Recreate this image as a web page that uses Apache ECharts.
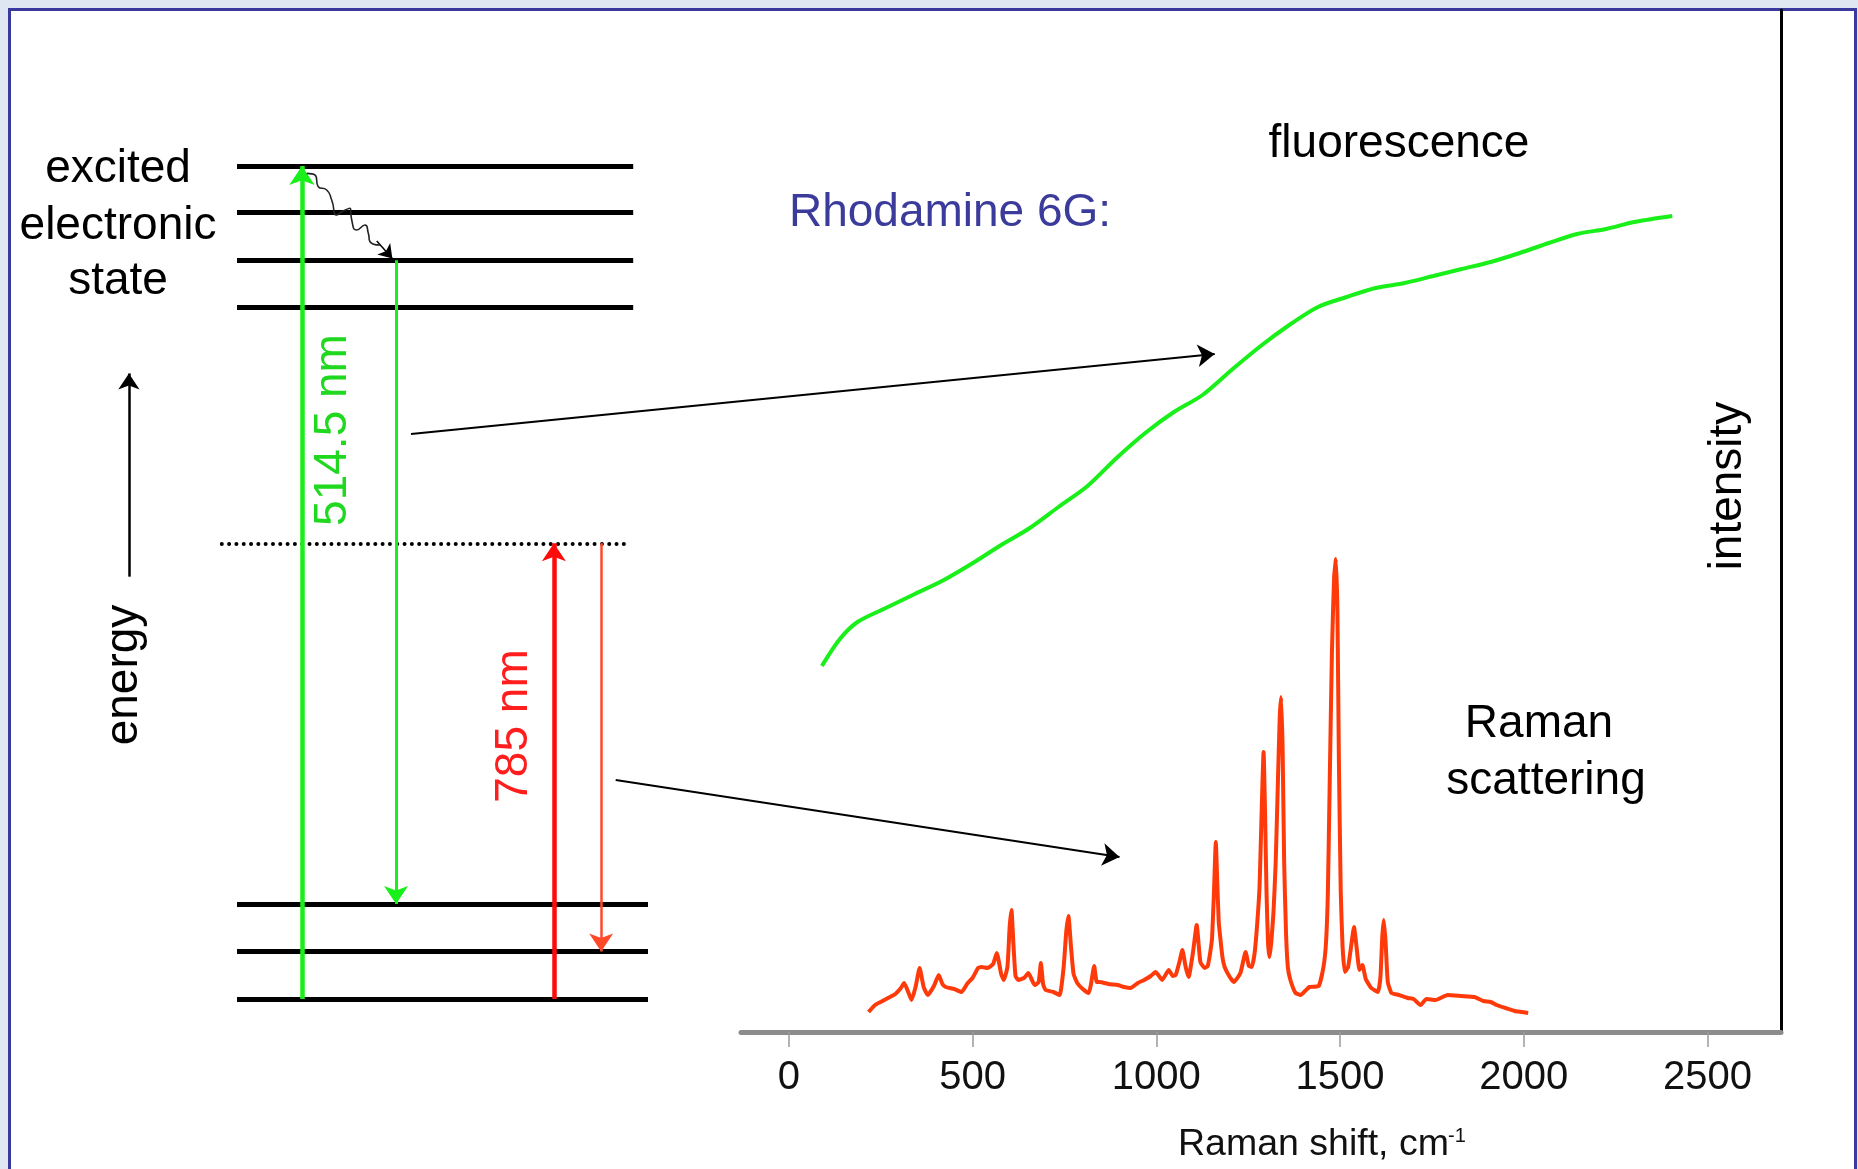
<!DOCTYPE html>
<html>
<head>
<meta charset="utf-8">
<title>Rhodamine 6G: fluorescence vs Raman</title>
<script src="https://cdn.jsdelivr.net/npm/echarts@6/dist/echarts.min.js"></script>
<style>
  html, body { margin: 0; padding: 0; background: #dfe7f2; }
  body { position: relative; width: 1858px; height: 1169px; overflow: hidden; }
  #frame { position: absolute; left: 8px; top: 8px; width: 1843px; height: 1190px;
           border: 3px solid #3a3a9e; background: #fff; }
  #main { position: absolute; left: 0; top: 0; width: 1858px; height: 1169px; }
</style>
</head>
<body>
<div id="frame"></div>
<div id="main"></div>
<script>
// ---- spectra: [Raman shift (cm-1), intensity (a.u.)] ----
var fluorescence = [
  [90, 36.6], [139, 39.3], [187, 41.0], [264, 42.4], [343, 43.8], [422, 45.2],
  [501, 46.9], [578, 48.7], [656, 50.4], [734, 52.5], [813, 54.6], [892, 57.4],
  [970, 59.9], [1048, 62.0], [1126, 63.7], [1205, 66.2], [1284, 68.6], [1362, 70.7],
  [1440, 72.5], [1518, 73.5], [1597, 74.4], [1676, 74.9], [1754, 75.6], [1831, 76.3],
  [1910, 77.0], [1989, 77.9], [2068, 78.9], [2145, 79.8], [2224, 80.3], [2301, 81.0],
  [2404, 81.6]
];
var raman = [
  [217, 2.0], [235, 2.7], [250, 3.0], [270, 3.4], [290, 3.8], [305, 4.4], [314, 4.9],
  [325, 4.0], [334, 3.2], [345, 4.5], [356, 6.4], [367, 4.5], [378, 3.7], [395, 4.6],
  [408, 5.7], [418, 4.8], [427, 4.5], [450, 4.3], [470, 4.0], [485, 4.8], [500, 5.4],
  [515, 6.4], [524, 6.5], [541, 6.4], [556, 6.8], [566, 7.9], [578, 5.8], [585, 5.2],
  [595, 6.5], [601, 10.5], [606, 12.2], [611, 9.0], [617, 5.6], [625, 5.2], [640, 5.4],
  [652, 5.9], [669, 4.7], [680, 5.0], [686, 6.9], [692, 4.8], [699, 4.2], [720, 4.0],
  [737, 3.7], [748, 6.5], [755, 10.0], [761, 11.6], [768, 8.5], [775, 5.8], [785, 4.9],
  [800, 4.3], [816, 3.9], [822, 4.7], [831, 6.6], [838, 5.0], [846, 5.0], [870, 4.8],
  [895, 4.7], [912, 4.5], [930, 4.4], [950, 4.9], [967, 5.2], [985, 5.6], [998, 6.0],
  [1016, 5.2], [1034, 6.2], [1045, 5.6], [1053, 5.7], [1063, 7.0], [1071, 8.2],
  [1080, 6.5], [1088, 5.5], [1100, 8.0], [1110, 10.7], [1120, 7.0], [1132, 6.4],
  [1140, 6.6], [1147, 8.0], [1152, 9.5], [1157, 14.0], [1162, 19.0], [1166, 15.0],
  [1170, 11.0], [1174, 9.5], [1180, 7.5], [1186, 6.5], [1200, 5.5], [1211, 5.0],
  [1229, 5.9], [1243, 8.0], [1252, 6.6], [1260, 6.5], [1268, 8.0], [1275, 11.0],
  [1281, 14.5], [1286, 21.0], [1292, 28.0], [1296, 22.0], [1300, 14.0], [1304, 9.0],
  [1308, 7.5], [1313, 9.0], [1319, 12.0], [1325, 17.0], [1331, 25.0], [1336, 31.5],
  [1340, 33.5], [1344, 28.0], [1348, 17.0], [1353, 10.0], [1358, 6.5], [1365, 5.2],
  [1379, 3.9], [1393, 3.7], [1405, 4.1], [1417, 4.5], [1442, 4.6], [1455, 6.5],
  [1462, 9.0], [1467, 14.0], [1472, 25.0], [1478, 38.0], [1484, 45.5], [1489, 47.3],
  [1493, 42.0], [1497, 27.0], [1502, 14.0], [1507, 8.5], [1513, 6.0], [1522, 6.5],
  [1530, 8.5], [1538, 10.5], [1545, 8.5], [1553, 6.2], [1561, 6.7], [1570, 5.3],
  [1585, 4.4], [1603, 4.0], [1610, 5.5], [1615, 9.5], [1619, 11.2], [1624, 9.0],
  [1630, 5.0], [1640, 3.9], [1660, 3.7], [1684, 3.4], [1700, 3.3], [1719, 2.7],
  [1735, 3.3], [1760, 3.2], [1793, 3.7], [1830, 3.6], [1866, 3.5], [1890, 3.1],
  [1910, 3.0], [1926, 2.7], [1950, 2.4], [1975, 2.1], [1995, 2.0], [2012, 1.9]
];
var xTicks = [0, 500, 1000, 1500, 2000, 2500];

// ---- energy diagram, arbitrary units (x 0-100 across, energy 0-100 up) ----
var groundLevels = [0, 5.7, 11.4];
var excitedLevels = [83.1, 88.7, 94.4, 100];
var virtualLevel = 54.7;
var excite514 = [[15.8, 0], [15.8, 100]];
var emit514 = [[38.7, 88.7], [38.7, 11.4]];
var excite785 = [[77.1, 0], [77.1, virtualLevel]];
var scatter785 = [[88.6, virtualLevel], [88.6, 5.7]];
var relaxation = [
  [16.96, 99.12], [18.98, 98.92], [19.78, 97.52], [21.82, 97.12], [23.04, 95.92],
  [24.26, 94.12], [25.47, 94.51], [27.49, 94.92], [27.91, 93.52], [29.12, 92.32],
  [31.14, 92.92], [31.95, 91.92], [32.36, 90.91], [34.79, 90.52]
];
var relaxHead = [[34.0, 91.0], [37.8, 88.9]];
var energyArrow = [[-26.3, 50.7], [-26.3, 75.1]];
// pointers from the diagram into the spectra (plot units)
var pointers = [
  [[-1028, 59.8], [1159, 67.8]],
  [[-471, 25.2], [900, 17.5]]
];

var FONT = '"Liberation Sans", Arial, sans-serif';
var GREEN = '#19ef19';
var RED = '#ff3a0a';

var myChart = echarts.init(document.getElementById('main'), null, { renderer: 'canvas' });

function arrowSeries(segments, color, width, size, grid) {
  return {
    type: 'lines',
    coordinateSystem: 'cartesian2d',
    xAxisIndex: grid, yAxisIndex: grid,
    clip: false, silent: true, z: 5,
    symbol: ['none', 'arrow'],
    symbolSize: size,
    lineStyle: { color: color, width: width, opacity: 1 },
    data: segments.map(function (s) { return { coords: s }; })
  };
}

function levelSeries(levels, x0, x1, width, type) {
  return {
    type: 'lines',
    coordinateSystem: 'cartesian2d',
    xAxisIndex: 1, yAxisIndex: 1,
    clip: false, silent: true, z: 3,
    symbol: 'none',
    lineStyle: { color: '#000', width: width, opacity: 1, type: type || 'solid', cap: type ? 'round' : 'butt' },
    data: levels.map(function (e) { return { coords: [[x0, e], [x1, e]] }; })
  };
}

function label(text, x, y, size, color, rot) {
  return {
    type: 'text', x: x, y: y, rotation: rot || 0, silent: true,
    style: { text: text, font: size + 'px ' + FONT, fill: color || '#000', align: 'center', verticalAlign: 'middle' }
  };
}

var option = {
  backgroundColor: 'transparent',
  animation: false,
  grid: [
    { left: 741, right: 77, top: 10, bottom: 137 },
    { left: 237, top: 166, width: 411, height: 833 }
  ],
  xAxis: [{
    type: 'value', gridIndex: 0, min: -130, max: 2700,
    axisLine: { show: true, onZero: false, lineStyle: { color: '#8c8c8c', width: 5 } },
    axisTick: { show: true, customValues: xTicks, length: 15, lineStyle: { color: '#9a9a9a', width: 1.5 } },
    axisLabel: {
      customValues: xTicks, fontSize: 40, fontFamily: FONT, color: '#111', margin: 26,
      formatter: function (v) { return String(v); }
    },
    splitLine: { show: false }
  }, {
    type: 'value', gridIndex: 1, min: 0, max: 100, show: false
  }],
  yAxis: [{
    type: 'value', gridIndex: 0, min: 0, max: 102.2, position: 'right',
    axisLine: { show: true, onZero: false, lineStyle: { color: '#000', width: 3 } },
    axisTick: { show: false }, axisLabel: { show: false }, splitLine: { show: false }
  }, {
    type: 'value', gridIndex: 1, min: 0, max: 100, show: false
  }],
  series: [
    {
      name: 'fluorescence', type: 'line', data: fluorescence,
      xAxisIndex: 0, yAxisIndex: 0, showSymbol: false, smooth: 0.3, z: 4,
      lineStyle: { color: GREEN, width: 4 }
    },
    {
      name: 'Raman scattering', type: 'line', data: raman,
      xAxisIndex: 0, yAxisIndex: 0, showSymbol: false, smooth: 0.15, z: 4,
      lineStyle: { color: RED, width: 4, join: 'round' }
    },
    levelSeries(excitedLevels, 0, 96.4, 5),
    levelSeries(groundLevels, 0, 100, 5),
    levelSeries([virtualLevel], -3.7, 94.4, 4, [0.01, 7.3]),
    arrowSeries([excite514], GREEN, 4.5, 19, 1),
    arrowSeries([emit514], GREEN, 3, 18, 1),
    arrowSeries([excite785], '#ff0a0a', 4.5, 18, 1),
    arrowSeries([scatter785], '#ff4a2a', 2.5, 18, 1),
    arrowSeries([energyArrow], '#000', 2.5, 16, 1),
    arrowSeries([relaxHead], '#000', 1.5, 13, 1),
    arrowSeries(pointers, '#000', 2.2, 17, 0),
    {
      name: 'relaxation', type: 'line', data: relaxation,
      xAxisIndex: 1, yAxisIndex: 1, showSymbol: false, smooth: 0.6, clip: false, z: 5,
      lineStyle: { color: '#222', width: 1.6 }
    }
  ],
  graphic: [
    label('excited', 118, 169, 46),
    label('electronic', 118, 226, 46),
    label('state', 118, 281, 46),
    label('energy', 124, 675, 46, '#000', Math.PI / 2),
    label('514.5 nm', 333, 430, 46, '#1fd81f', Math.PI / 2),
    label('785 nm', 514, 726, 46, '#ff1e1e', Math.PI / 2),
    label('fluorescence', 1399, 144, 46),
    label('Rhodamine 6G:', 950, 213, 46, '#3b3b9b'),
    label('Raman', 1539, 724, 46),
    label('scattering', 1546, 781, 46),
    label('intensity', 1728, 486, 46, '#000', Math.PI / 2),
    {
      type: 'text', x: 1178, y: 1145, silent: true,
      style: { text: 'Raman shift, cm', font: '37.5px ' + FONT, fill: '#111', align: 'left', verticalAlign: 'middle' }
    },
    {
      type: 'text', x: 1448, y: 1136, silent: true,
      style: { text: '-1', font: '20px ' + FONT, fill: '#111', align: 'left', verticalAlign: 'middle' }
    }
  ]
};
myChart.setOption(option);
</script>
</body>
</html>
